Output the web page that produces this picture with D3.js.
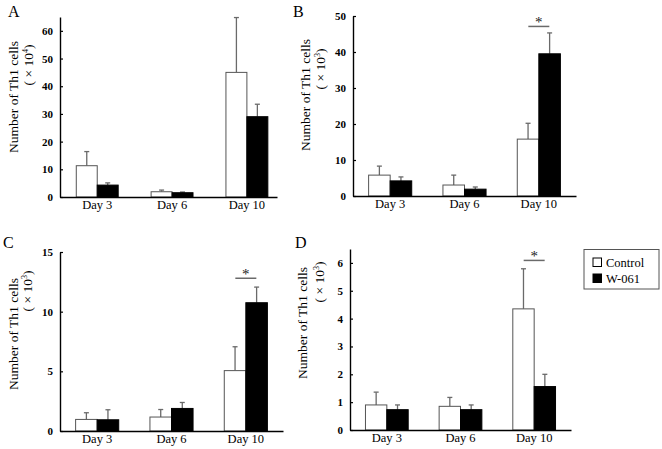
<!doctype html>
<html>
  <head>
    <script src="https://cdnjs.cloudflare.com/ajax/libs/d3/7.8.5/d3.min.js"></script>
    <style>
      body { margin: 0; background: #fff; }
      svg text { font-family: "Liberation Serif", "Times New Roman", serif; }
    </style>
  </head>
  <body>
    <svg width="662" height="449"></svg>
    <script>
      var days = ["Day 3", "Day 6", "Day 10"];
      var groups = ["Control", "W-061"];

      // means and upper error (SD)
      var ctrlA = [11.3, 1.9, 45.0], ctrlErrA = [5.1, 0.6, 19.8];
      var w061A = [4.3, 1.55, 29.0], w061ErrA = [0.8, 0.25, 4.5];

      var ctrlB = [5.8, 3.05, 15.8], ctrlErrB = [2.5, 2.75, 4.4];
      var w061B = [4.2, 1.9, 39.5], w061ErrB = [1.1, 0.6, 5.8];

      var ctrlC = [0.97, 1.17, 5.06], ctrlErrC = [0.56, 0.63, 2.0];
      var w061C = [0.94, 1.89, 10.75], w061ErrC = [0.84, 0.5, 1.31];

      var ctrlD = [0.9, 0.85, 4.35], ctrlErrD = [0.46, 0.32, 1.44];
      var w061D = [0.73, 0.73, 1.56], w061ErrD = [0.17, 0.17, 0.44];

      var ticksA = [0, 10, 20, 30, 40, 50, 60];
      var ticksB = [0, 10, 20, 30, 40, 50];
      var ticksC = [0, 5, 10, 15];
      var ticksD = [0, 1, 2, 3, 4, 5, 6];

      var panels = [
        {id: "A", ctrl: ctrlA, ctrlErr: ctrlErrA, w: w061A, wErr: w061ErrA, ticks: ticksA, max: 65, exp: "4", sig: null,
         x0: 60, x1: 277, y0: 17, y1: 197, pi: 0.44, po: 0.17, align: 0.64,
         lab: [8, 17], yl: [18, 97], yl2: [33, 65]},
        {id: "B", ctrl: ctrlB, ctrlErr: ctrlErrB, w: w061B, wErr: w061ErrB, ticks: ticksB, max: 50, exp: "3", sig: 47.1,
         x0: 353, x1: 576, y0: 16, y1: 196, pi: 0.42, po: 0.21, align: 0.5,
         lab: [293, 17], yl: [310, 95], yl2: [325, 69]},
        {id: "C", ctrl: ctrlC, ctrlErr: ctrlErrC, w: w061C, wErr: w061ErrC, ticks: ticksC, max: 15, exp: "3", sig: 12.8,
         x0: 60, x1: 283, y0: 252, y1: 431, pi: 0.42, po: 0.21, align: 0.5,
         lab: [3, 248], yl: [18, 334], yl2: [32, 291]},
        {id: "D", ctrl: ctrlD, ctrlErr: ctrlErrD, w: w061D, wErr: w061ErrD, ticks: ticksD, max: 6.5, exp: "3", sig: 6.09,
         x0: 350, x1: 571, y0: 249, y1: 430, pi: 0.42, po: 0.21, align: 0.5,
         lab: [295, 248], yl: [307, 323], yl2: [324, 282]}
      ];

      var svg = d3.select("svg");
      var errColor = "#6a6a6a";
      var serif = "Liberation Serif, Times New Roman, serif";

      panels.forEach(function(p) {
        var g = svg.append("g");

        var x = d3.scaleBand().domain(days).range([p.x0, p.x1])
          .paddingInner(p.pi).paddingOuter(p.po).align(p.align);
        var sub = d3.scaleBand().domain(groups).range([0, x.bandwidth()]);
        var y = d3.scaleLinear().domain([0, p.max]).range([p.y1, p.y0]);

        var rows = days.map(function(d, i) {
          return [
            {day: d, group: "Control", v: p.ctrl[i], e: p.ctrlErr[i]},
            {day: d, group: "W-061", v: p.w[i], e: p.wErr[i]}
          ];
        }).flat();

        // error bars (upper only) behind bars
        var eb = g.selectAll(".eb").data(rows).enter().append("g");
        eb.append("line")
          .attr("x1", d => x(d.day) + sub(d.group) + sub.bandwidth() / 2)
          .attr("x2", d => x(d.day) + sub(d.group) + sub.bandwidth() / 2)
          .attr("y1", d => y(d.v))
          .attr("y2", d => y(d.v + d.e))
          .attr("stroke", errColor).attr("stroke-width", 1.3);
        eb.append("line")
          .attr("x1", d => x(d.day) + sub(d.group) + sub.bandwidth() / 2 - 2.5)
          .attr("x2", d => x(d.day) + sub(d.group) + sub.bandwidth() / 2 + 2.5)
          .attr("y1", d => y(d.v + d.e))
          .attr("y2", d => y(d.v + d.e))
          .attr("stroke", errColor).attr("stroke-width", 1.3);

        g.selectAll(".bar").data(rows).enter().append("rect")
          .attr("x", d => x(d.day) + sub(d.group))
          .attr("y", d => y(d.v))
          .attr("width", sub.bandwidth())
          .attr("height", d => y(0) - y(d.v))
          .attr("fill", d => d.group === "Control" ? "#fff" : "#000")
          .attr("stroke", d => d.group === "Control" ? "#555" : "#000")
          .attr("stroke-width", 1);

        // y axis with inward ticks
        var ya = g.append("g").attr("transform", "translate(" + p.x0 + ",0)")
          .call(d3.axisLeft(y).tickValues(p.ticks).tickFormat(d3.format("d"))
            .tickSizeInner(-3).tickSizeOuter(0).tickPadding(7));
        ya.attr("font-family", serif);
        ya.select(".domain").attr("stroke-width", 1.4);
        ya.selectAll(".tick line").attr("stroke-width", 1.2);
        ya.selectAll("text").attr("font-size", 11).attr("font-weight", "bold");

        var xa = g.append("g").attr("transform", "translate(0," + p.y1 + ")")
          .call(d3.axisBottom(x).tickSize(0).tickPadding(3.5));
        xa.attr("font-family", serif);
        xa.select(".domain").attr("stroke-width", 1.4);
        xa.selectAll("text").attr("font-size", 12.5);

        // significance bar
        if (p.sig !== null) {
          var cx = x("Day 10") + x.bandwidth() / 2;
          g.append("line")
            .attr("x1", cx - 10.5).attr("x2", cx + 10.5)
            .attr("y1", y(p.sig)).attr("y2", y(p.sig))
            .attr("stroke", errColor).attr("stroke-width", 1.5);
          g.append("text").attr("x", cx).attr("y", y(p.sig) + 1)
            .attr("text-anchor", "middle").attr("font-size", 15).attr("fill", "#222")
            .text("*");
        }

        g.append("text").attr("x", p.lab[0]).attr("y", p.lab[1])
          .attr("font-size", 16).text(p.id);

        g.append("text")
          .attr("transform", "translate(" + p.yl[0] + "," + p.yl[1] + ") rotate(-90)")
          .attr("text-anchor", "middle").attr("font-size", 13.5)
          .text("Number of Th1 cells");
        var t2 = g.append("text")
          .attr("transform", "translate(" + p.yl2[0] + "," + p.yl2[1] + ") rotate(-90)")
          .attr("text-anchor", "middle").attr("font-size", 13.5);
        t2.append("tspan").text("( \u00d7 10");
        t2.append("tspan").attr("font-size", 8).attr("dy", -5).text(p.exp);
        t2.append("tspan").attr("dy", 5).text(")");
      });

      // legend
      var lg = svg.append("g");
      lg.append("rect").attr("x", 584).attr("y", 249.5).attr("width", 75).attr("height", 39.5)
        .attr("fill", "#fff").attr("stroke", "#555").attr("stroke-width", 1);
      var li = lg.selectAll(".li").data(groups).enter().append("g")
        .attr("transform", (d, i) => "translate(593," + (258 + i * 16) + ")");
      li.append("rect").attr("width", 8.5).attr("height", 8.5)
        .attr("fill", d => d === "Control" ? "#fff" : "#000")
        .attr("stroke", "#000").attr("stroke-width", 1);
      li.append("text").attr("x", 13).attr("y", 8.5).attr("font-size", 12.5).text(d => d);
    </script>
  </body>
</html>
